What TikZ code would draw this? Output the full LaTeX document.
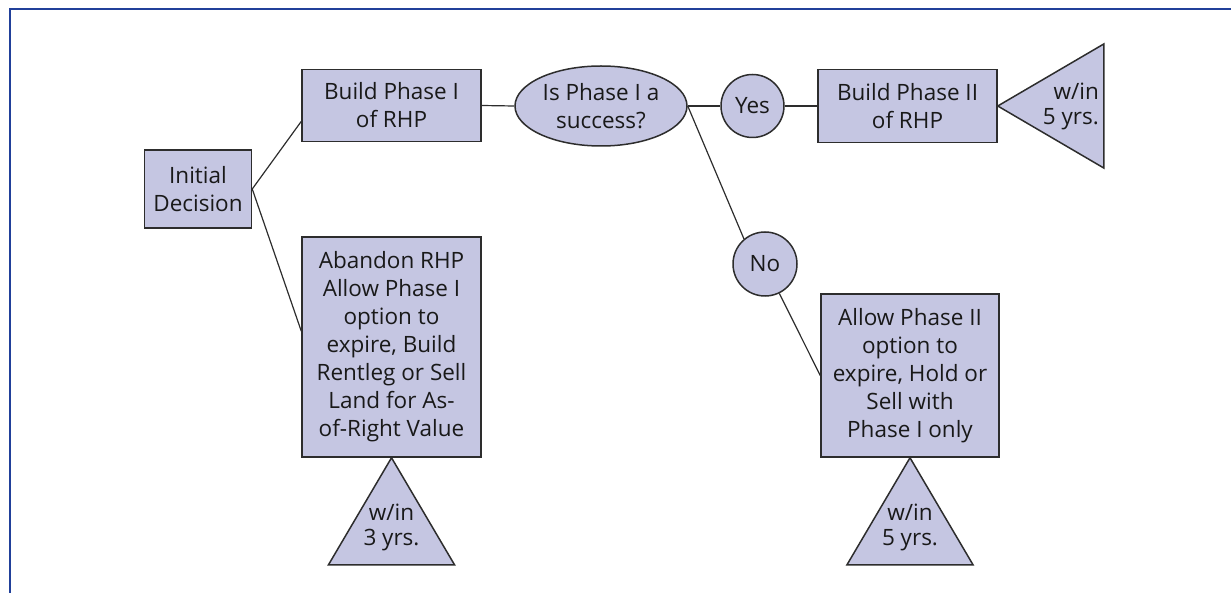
\documentclass[tikz,border=0pt]{standalone}
\usepackage{fontspec}
\setmainfont{Open Sans}
\usepackage{xcolor}
\usetikzlibrary{positioning,shapes.geometric}
\definecolor{boxfill}{RGB}{197,198,226}
\definecolor{edgegray}{RGB}{45,45,45}
\definecolor{frameblue}{RGB}{33,64,154}

\begin{document}
\begin{tikzpicture}[
  x=1pt, y=-1pt,
  box/.style={rectangle, draw=edgegray, fill=boxfill, line width=1.5pt,
              align=center, inner sep=0pt, text=black!90,
              font=\fontsize{22.5}{28}\selectfont},
  oval/.style={box, ellipse},
  disc/.style={box, circle},
  tri/.style={draw=edgegray, fill=boxfill, line width=1.5pt, line join=miter},
  lbl/.style={align=center, inner sep=0pt, text=black!90,
              font=\fontsize{22.5}{25}\selectfont},
  link/.style={draw=edgegray, line width=1.2pt},
]
\useasboundingbox (0,0) rectangle (1231,593);
\draw[frameblue, line width=2.5pt] (10,600) |- (1240,9);

\node[box, minimum width=107pt, minimum height=78pt] (init) at (198,189) {Initial\\Decision};
\node[box, minimum width=179pt, minimum height=72pt] (build1) at (391.5,105.5) {Build Phase I\\of RHP};
\node[box, minimum width=179pt, minimum height=220pt] (abandon) at (391.5,347) {Abandon RHP\\Allow Phase I\\option to\\expire, Build\\Rentleg or Sell\\Land for As-\\of-Right Value};
\node[oval, minimum width=172pt, minimum height=80pt] (success) at (601,106) {Is Phase I a\\success?};
\node[disc, minimum size=63pt] (yes) at (752.5,106) {Yes};
\node[box, minimum width=179pt, minimum height=73pt] (build2) at (907.5,106) {Build Phase II\\of RHP};
\node[disc, minimum size=64pt] (no) at (765,264) {No};
\node[box, minimum width=178pt, minimum height=163pt] (allow) at (910,375.5) {Allow Phase II\\option to\\expire, Hold or\\Sell with\\Phase I only};

% deadlines
\draw[tri] (build2.east) -- ++(106,-62) -- ++(0,124) -- cycle;
\draw[tri] (abandon.south) -- ++(-63,107) -- ++(126,0) -- cycle;
\draw[tri] (allow.south) -- ++(-63,107) -- ++(126,0) -- cycle;
\node[lbl, anchor=east, align=right] (due2) at (1099,106) {w/in\\5 yrs.};
\node[lbl] (due1) at (391.5,527) {w/in\\3 yrs.};
\node[lbl] (due3) at (910,527) {w/in\\5 yrs.};

\draw[link] (init.east) -- (build1.190);
\draw[link] (init.east) -- (abandon.170);
\draw[link] (build1.east) -- (success.west);
\draw[link] (success.east) -- (yes.west);
\draw[link] (yes.east) -- (build2.west);
\draw[link] (success.east) -- (no.130);
\draw[link] (no.-64) -- (allow.west);
\end{tikzpicture}
\end{document}
